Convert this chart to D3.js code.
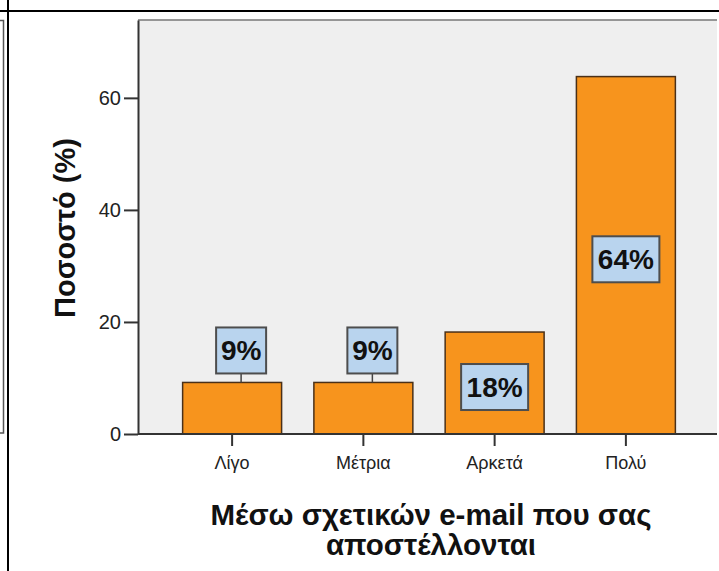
<!DOCTYPE html>
<html>
<head>
<meta charset="utf-8">
<script src="https://cdn.jsdelivr.net/npm/d3@7"></script>
<style>
  html, body { margin: 0; padding: 0; background: #fff; }
  svg { display: block; }
</style>
</head>
<body>
<svg id="chart" width="719" height="571"></svg>
<script>
const categories = ["Λίγο", "Μέτρια", "Αρκετά", "Πολύ"];
const values = [9.2, 9.2, 18.2, 63.8];
const valueLabels = ["9%", "9%", "18%", "64%"];
const labelInside = [false, false, true, true];
const yTicks = [0, 20, 40, 60];
const yTitle = "Ποσοστό (%)";
const xTitleLines = ["Μέσω σχετικών e-mail που σας", "αποστέλλονται"];

const svg = d3.select("#chart");
const W = 719, H = 571;
const plot = { left: 138, right: 717, top: 20, bottom: 434 };
const FONT = "Liberation Sans, Arial, sans-serif";

// frame lines
svg.append("line").attr("x1", 8).attr("x2", 8).attr("y1", 0).attr("y2", H)
  .attr("stroke", "#000").attr("stroke-width", 2);
svg.append("line").attr("x1", 0).attr("x2", W).attr("y1", 11).attr("y2", 11)
  .attr("stroke", "#000").attr("stroke-width", 2);
// neighbouring chart's border
svg.append("path").attr("d", "M0,20.5 H3.5 V433 H0")
  .attr("fill", "none").attr("stroke", "#555").attr("stroke-width", 1.5);

// plot background
svg.append("rect").attr("x", plot.left).attr("y", plot.top)
  .attr("width", plot.right - plot.left).attr("height", plot.bottom - plot.top)
  .attr("fill", "#efefef");
svg.append("line").attr("x1", plot.left).attr("x2", plot.right)
  .attr("y1", plot.top).attr("y2", plot.top)
  .attr("stroke", "#777").attr("stroke-width", 1.5);

const y = d3.scaleLinear().domain([0, 73.9]).range([plot.bottom, plot.top]);
const x = d3.scaleBand().domain(categories).range([plot.left, 720])
  .paddingInner(0.246).paddingOuter(0.34);

// bars
svg.append("g").selectAll("rect").data(values).join("rect")
  .attr("x", (d, i) => x(categories[i]))
  .attr("y", d => y(d))
  .attr("width", x.bandwidth())
  .attr("height", d => y(0) - y(d))
  .attr("fill", "#f7941d")
  .attr("stroke", "#4a3018")
  .attr("stroke-width", 1.5);

// axes
const yAxis = d3.axisLeft(y).tickValues(yTicks).tickSize(14).tickSizeOuter(0).tickPadding(3);
const gy = svg.append("g").attr("transform", `translate(${plot.left},0)`).call(yAxis);
gy.select(".domain").attr("stroke", "#333").attr("stroke-width", 2);
gy.selectAll(".tick line").attr("stroke", "#333").attr("stroke-width", 2);
gy.selectAll(".tick text").attr("font-family", FONT)
  .attr("font-size", 20).attr("fill", "#222");

const xAxis = d3.axisBottom(x).tickSize(12).tickPadding(10).tickSizeOuter(0);
const gx = svg.append("g").attr("transform", `translate(0,${plot.bottom})`).call(xAxis);
gx.select(".domain").attr("stroke", "#333").attr("stroke-width", 2)
  .attr("d", `M${plot.left},0H${plot.right}`);
gx.selectAll(".tick line").attr("stroke", "#333").attr("stroke-width", 2);
gx.selectAll(".tick text").attr("font-family", FONT)
  .attr("font-size", 18).attr("fill", "#222");

// value labels
const lab = svg.append("g").selectAll("g").data(values).join("g");
lab.each(function(d, i) {
  const g = d3.select(this);
  const cx = x(categories[i]) + x.bandwidth() / 2;
  const w = valueLabels[i].length > 2 ? 67 : 50;
  const h = 46;
  let bx, by;
  if (labelInside[i]) {
    bx = cx - w / 2;
    by = (y(d) + y(0)) / 2 + 4 - h / 2;
  } else {
    bx = cx + 9 - w / 2;
    by = y(d) - 9 - h;
    g.append("line").attr("x1", bx + w / 2).attr("x2", bx + w / 2)
      .attr("y1", by + h).attr("y2", y(d)).attr("stroke", "#444").attr("stroke-width", 1.5);
  }
  g.append("rect").attr("x", bx).attr("y", by).attr("width", w).attr("height", h)
    .attr("fill", "#b9d4ee").attr("stroke", "#4d4d4d").attr("stroke-width", 2);
  g.append("text").attr("x", bx + w / 2).attr("y", by + h / 2 + 10)
    .attr("text-anchor", "middle")
    .attr("font-family", FONT)
    .attr("font-weight", "bold").attr("font-size", 28).attr("fill", "#111")
    .text(valueLabels[i]);
});

// y title
svg.append("text")
  .attr("transform", `translate(75,${(plot.top + plot.bottom) / 2 + 1}) rotate(-90)`)
  .attr("text-anchor", "middle")
  .attr("font-family", FONT)
  .attr("font-weight", "bold").attr("font-size", 29).attr("fill", "#111")
  .text(yTitle);

// x title
const xt = svg.append("text").attr("text-anchor", "middle")
  .attr("font-family", FONT)
  .attr("font-weight", "bold").attr("font-size", 29.5).attr("fill", "#111");
xTitleLines.forEach((t, i) => {
  xt.append("tspan").attr("x", 431).attr("y", 525 + i * 30).text(t);
});
</script>
</body>
</html>
